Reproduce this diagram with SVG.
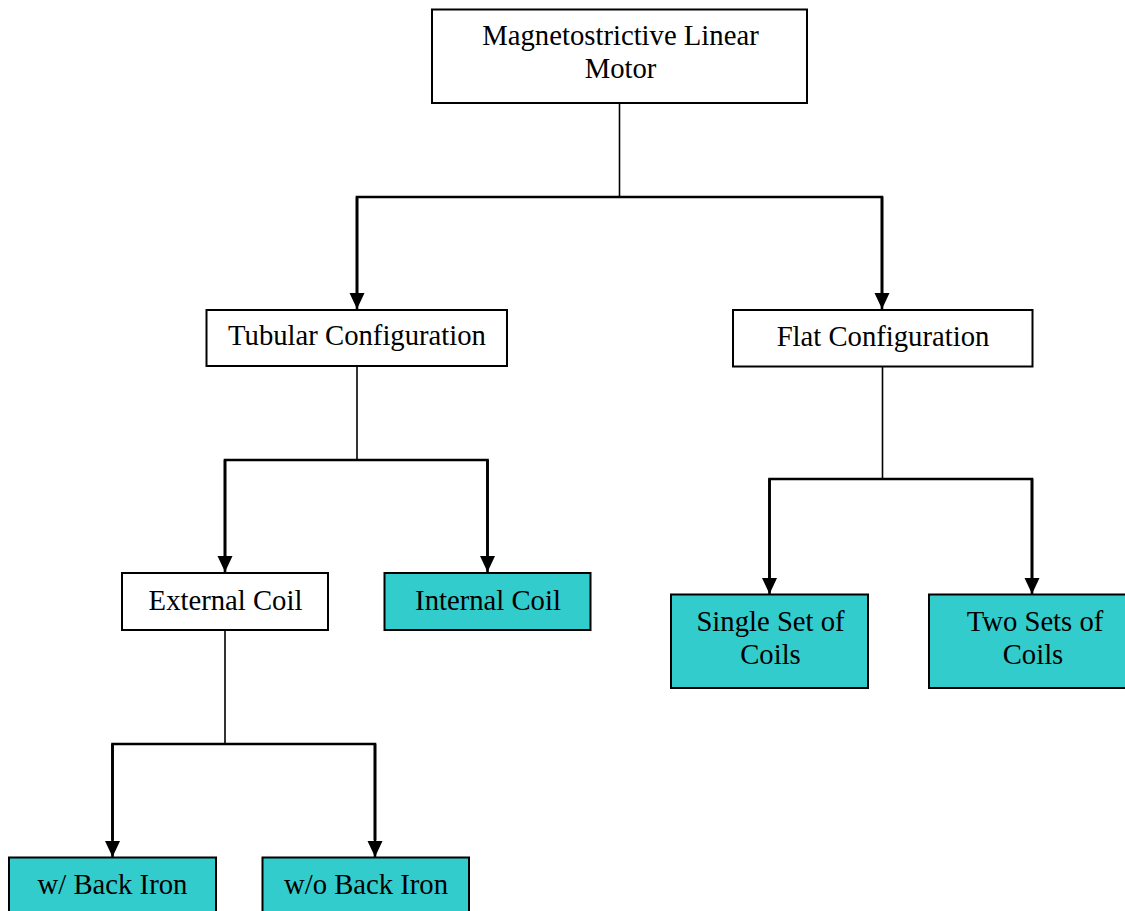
<svg xmlns="http://www.w3.org/2000/svg" width="1125" height="911" viewBox="0 0 1125 911">
<style>
.box{fill:#ffffff;stroke:#000;stroke-width:2}
.teal{fill:#33CCCC;stroke:#000;stroke-width:2}
.t{font-family:"Liberation Serif","Times New Roman",serif;font-size:28.7px;fill:#000;text-anchor:middle}
.stem{stroke:#000;stroke-width:1.6;fill:none}
.br{stroke:#000;stroke-width:2.6;fill:none}
</style>
<defs>
<marker id="ah" markerUnits="userSpaceOnUse" markerWidth="17" markerHeight="17" viewBox="0 0 17 17" refX="8.5" refY="16" orient="0">
<path d="M1,0 L16,0 L8.5,16 Z" fill="#000"/>
</marker>
</defs>
<rect width="1125" height="911" fill="#fff"/>
<g id="connectors">
<line class="stem" x1="619.5" y1="103" x2="619.5" y2="197"/>
<path class="br" d="M357,297 V197 H882 V297" />
<line class="br" x1="357" y1="197" x2="357" y2="309" marker-end="url(#ah)"/>
<line class="br" x1="882" y1="197" x2="882" y2="309" marker-end="url(#ah)"/>
<line class="stem" x1="357" y1="366" x2="357" y2="460"/>
<path class="br" d="M225,560 V460 H487.5 V560"/>
<line class="br" x1="225" y1="460" x2="225" y2="572" marker-end="url(#ah)"/>
<line class="br" x1="487.5" y1="460" x2="487.5" y2="572" marker-end="url(#ah)"/>
<line class="stem" x1="882.5" y1="367" x2="882.5" y2="479"/>
<path class="br" d="M769.5,580 V479 H1032 V580"/>
<line class="br" x1="769.5" y1="479" x2="769.5" y2="594" marker-end="url(#ah)"/>
<line class="br" x1="1032" y1="479" x2="1032" y2="594" marker-end="url(#ah)"/>
<line class="stem" x1="225" y1="630" x2="225" y2="744"/>
<path class="br" d="M112.5,840 V744 H375 V840"/>
<line class="br" x1="112.5" y1="744" x2="112.5" y2="857" marker-end="url(#ah)"/>
<line class="br" x1="375" y1="744" x2="375" y2="857" marker-end="url(#ah)"/>
</g>
<g id="node-motor">
<rect class="box" x="432" y="9.5" width="375" height="93.5"/>
<text class="t" x="620.5" y="45">Magnetostrictive Linear</text>
<text class="t" x="620.5" y="78">Motor</text>
</g>
<g id="node-tubular">
<rect class="box" x="206.5" y="310" width="300.5" height="56"/>
<text class="t" x="357" y="345">Tubular Configuration</text>
</g>
<g id="node-flat">
<rect class="box" x="733" y="310" width="299.5" height="56.5"/>
<text class="t" x="883" y="346">Flat Configuration</text>
</g>
<g id="node-external">
<rect class="box" x="122" y="573" width="206" height="57"/>
<text class="t" x="225.5" y="610">External Coil</text>
</g>
<g id="node-internal">
<rect class="teal" x="384.5" y="573" width="206" height="57"/>
<text class="t" x="488" y="610">Internal Coil</text>
</g>
<g id="node-single">
<rect class="teal" x="671" y="594.5" width="197" height="93.5"/>
<text class="t" x="770.5" y="631">Single Set of</text>
<text class="t" x="770.5" y="664">Coils</text>
</g>
<g id="node-two">
<rect class="teal" x="929" y="594.5" width="215" height="93.5"/>
<text class="t" x="1035" y="631">Two Sets of</text>
<text class="t" x="1033" y="664">Coils</text>
</g>
<g id="node-backiron">
<rect class="teal" x="9" y="857.5" width="207" height="70"/>
<text class="t" x="112.5" y="894">w/ Back Iron</text>
</g>
<g id="node-nobackiron">
<rect class="teal" x="262.5" y="857.5" width="206.5" height="70"/>
<text class="t" x="366" y="894">w/o Back Iron</text>
</g>
</svg>
